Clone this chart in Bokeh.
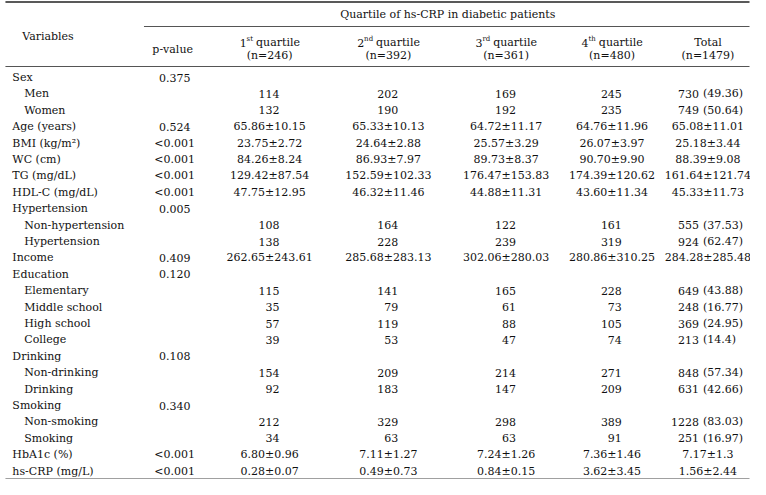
from bokeh.plotting import figure
from bokeh.models import Range1d, ColumnDataSource
from bokeh.embed import file_html
from bokeh.resources import INLINE
from bokeh.core.properties import value

# ---------------- data ----------------
variables = ["Sex", "Men", "Women", "Age (years)", "BMI (kg/m\u00b2)", "WC (cm)", "TG (mg/dL)",
             "HDL-C (mg/dL)", "Hypertension", "Non-hypertension", "Hypertension", "Income",
             "Education", "Elementary", "Middle school", "High school", "College", "Drinking",
             "Non-drinking", "Drinking", "Smoking", "Non-smoking", "Smoking", "HbA1c (%)",
             "hs-CRP (mg/L)"]
indent = [0, 1, 1, 0, 0, 0, 0, 0, 0, 1, 1, 0, 0, 1, 1, 1, 1, 0, 1, 1, 0, 1, 1, 0, 0]
p_values = ["0.375", "", "", "0.524", "<0.001", "<0.001", "<0.001", "<0.001", "0.005", "", "",
            "0.409", "0.120", "", "", "", "", "0.108", "", "", "0.340", "", "", "<0.001", "<0.001"]
q1 = ["", "114", "132", "65.86\u00b110.15", "23.75\u00b12.72", "84.26\u00b18.24", "129.42\u00b187.54",
      "47.75\u00b112.95", "", "108", "138", "262.65\u00b1243.61", "", "115", "35", "57", "39", "",
      "154", "92", "", "212", "34", "6.80\u00b10.96", "0.28\u00b10.07"]
q2 = ["", "202", "190", "65.33\u00b110.13", "24.64\u00b12.88", "86.93\u00b17.97", "152.59\u00b1102.33",
      "46.32\u00b111.46", "", "164", "228", "285.68\u00b1283.13", "", "141", "79", "119", "53", "",
      "209", "183", "", "329", "63", "7.11\u00b11.27", "0.49\u00b10.73"]
q3 = ["", "169", "192", "64.72\u00b111.17", "25.57\u00b13.29", "89.73\u00b18.37", "176.47\u00b1153.83",
      "44.88\u00b111.31", "", "122", "239", "302.06\u00b1280.03", "", "165", "61", "88", "47", "",
      "214", "147", "", "298", "63", "7.24\u00b11.26", "0.84\u00b10.15"]
q4 = ["", "245", "235", "64.76\u00b111.96", "26.07\u00b13.97", "90.70\u00b19.90", "174.39\u00b1120.62",
      "43.60\u00b111.34", "", "161", "319", "280.86\u00b1310.25", "", "228", "73", "105", "74", "",
      "271", "209", "", "389", "91", "7.36\u00b11.46", "3.62\u00b13.45"]
total = ["", "730 (49.36)", "749 (50.64)", "65.08\u00b111.01", "25.18\u00b13.44", "88.39\u00b19.08",
         "161.64\u00b1121.74", "45.33\u00b111.73", "", "555 (37.53)", "924 (62.47)",
         "284.28\u00b1285.48", "", "649 (43.88)", "248 (16.77)", "369 (24.95)", "213 (14.4)", "",
         "848 (57.34)", "631 (42.66)", "", "1228 (83.03)", "251 (16.97)", "7.17\u00b11.3", "1.56\u00b12.44"]

group_title = "Quartile of hs-CRP in diabetic patients"
ordinals = ["1", "2", "3", "4"]
suffixes = ["st", "nd", "rd", "th"]
quartile_n = ["(n=246)", "(n=392)", "(n=361)", "(n=480)"]
total_label = "Total"
total_n = "(n=1479)"

# ---------------- layout ----------------
FONT = value("DejaVu Serif")
FS = "11px"
SUP = "7px"
COLOR = "#111111"

p = figure(width=750, height=479, x_range=Range1d(0, 758), y_range=Range1d(479, 0),
           output_backend="svg", toolbar_location=None, min_border=0)
p.axis.visible = False
p.grid.visible = False
p.outline_line_color = None
p.background_fill_color = "white"
p.border_fill_color = "white"


def txt(xs, ys, texts, align="left", size=FS):
    src = ColumnDataSource(dict(x=xs, y=ys, t=texts))
    p.text(x="x", y="y", text="t", source=src, text_font=FONT, text_font_size=size,
           text_align=align, text_baseline="middle", text_color=COLOR)


ROW0 = 77.0
ROWH = 16.4
ys = [ROW0 + i * ROWH for i in range(len(variables))]
y_bottom = ys[-1] + 8

# lines
p.segment(x0=[5], y0=[1.5], x1=[757], y1=[1.5], line_color="#222222", line_width=1.6)
p.segment(x0=[145], y0=[26], x1=[757], y1=[26], line_color="#555555", line_width=1)
p.segment(x0=[5], y0=[66], x1=[757], y1=[66], line_color="#555555", line_width=1)
p.segment(x0=[5], y0=[y_bottom], x1=[757], y1=[y_bottom], line_color="#808080", line_width=1.8)

# header
txt([48], [36], ["Variables"], "center")
txt([452], [14], [group_title], "center")
txt([174], [49], ["p-value"], "center")
centers = [272, 392, 511, 618]
sup_w = [6.5, 9.0, 7.8, 7.5]
for cx, o, s, n, w in zip(centers, ordinals, suffixes, quartile_n, sup_w):
    start = cx - (7 + w + 3 + 44) / 2
    txt([start], [42], [o], "left")
    txt([start + 7], [38], [s], "left", SUP)
    txt([start + 7 + w + 3], [42], ["quartile"], "left")
    txt([cx], [55], [n], "center")
TC = 715
txt([TC], [42], [total_label], "center")
txt([TC], [55], [total_n], "center")

# variable names
txt([12 + 12 * k for k in indent], ys, variables, "left")
# p-values
txt([176] * len(ys), ys, p_values, "center")

# quartile columns
for cx, col in zip(centers, [q1, q2, q3, q4]):
    cnt_y = [y for y, v in zip(ys, col) if v and "\u00b1" not in v]
    cnt_t = [v for v in col if v and "\u00b1" not in v]
    m_y = [y for y, v in zip(ys, col) if "\u00b1" in v]
    m_t = [v for v in col if "\u00b1" in v]
    txt([cx + 10] * len(cnt_y), cnt_y, cnt_t, "right")
    txt([cx] * len(m_y), m_y, m_t, "center")

# total column
num_y = [y for y, v in zip(ys, total) if v and "\u00b1" not in v]
num_t = [v.split(" ")[0] for v in total if v and "\u00b1" not in v]
pct_t = [v.split(" ")[1] for v in total if v and "\u00b1" not in v]
m_y = [y for y, v in zip(ys, total) if "\u00b1" in v]
m_t = [v for v in total if "\u00b1" in v]
txt([706] * len(num_y), num_y, num_t, "right")
txt([710] * len(num_y), num_y, pct_t, "left")
txt([TC] * len(m_y), m_y, m_t, "center")

open("out.html", "w").write(file_html(p, INLINE))
